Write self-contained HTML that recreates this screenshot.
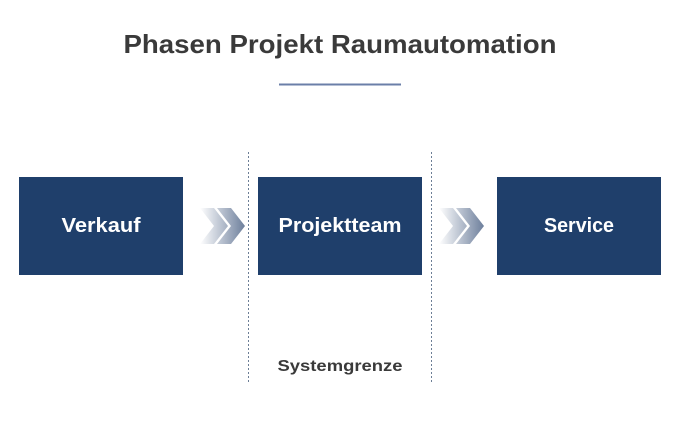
<!DOCTYPE html>
<html><head><style>body{margin:0;background:#fff}svg{display:block}</style></head><body>
<svg width="680" height="427" viewBox="0 0 680 427" xmlns="http://www.w3.org/2000/svg">
<defs>
<linearGradient id="g1" gradientUnits="userSpaceOnUse" x1="200" x2="245" y1="0" y2="0">
<stop offset="0" stop-color="#ffffff"/><stop offset="1" stop-color="#6d7f9c"/>
</linearGradient>
<linearGradient id="g2" gradientUnits="userSpaceOnUse" x1="439" x2="484" y1="0" y2="0">
<stop offset="0" stop-color="#ffffff"/><stop offset="1" stop-color="#6d7f9c"/>
</linearGradient>
</defs>
<text x="340" y="53" text-anchor="middle" font-family="Liberation Sans, sans-serif" font-weight="bold" font-size="26" fill="#3a3a3a" textLength="433" lengthAdjust="spacingAndGlyphs">Phasen Projekt Raumautomation</text>
<line x1="279" y1="84.5" x2="401" y2="84.5" stroke="#6b7fa8" stroke-width="2"/>
<line x1="248.5" y1="152" x2="248.5" y2="382" stroke="#6c7e96" stroke-width="1" stroke-dasharray="2,2"/>
<line x1="431.5" y1="152" x2="431.5" y2="382" stroke="#6c7e96" stroke-width="1" stroke-dasharray="2,2"/>
<rect x="19" y="177" width="164" height="98" fill="#1f3f6b"/>
<rect x="258" y="177" width="164" height="98" fill="#1f3f6b"/>
<rect x="497" y="177" width="164" height="98" fill="#1f3f6b"/>
<g font-family="Liberation Sans, sans-serif" font-weight="bold" font-size="20" fill="#fff" text-anchor="middle">
<text x="101" y="232" textLength="79" lengthAdjust="spacingAndGlyphs">Verkauf</text>
<text x="340" y="232" textLength="123" lengthAdjust="spacingAndGlyphs">Projektteam</text>
<text x="579" y="232" textLength="70" lengthAdjust="spacingAndGlyphs">Service</text>
</g>
<g fill="url(#g1)">
<polygon points="200,208 214,208 228,226 214,244 200,244 214,226"/>
<polygon points="217,208 231,208 245,226 231,244 217,244 231,226"/>
</g>
<g fill="url(#g2)">
<polygon points="439,208 453,208 467,226 453,244 439,244 453,226"/>
<polygon points="456,208 470,208 484,226 470,244 456,244 470,226"/>
</g>
<text x="340" y="371" text-anchor="middle" font-family="Liberation Sans, sans-serif" font-weight="bold" font-size="16" fill="#3a3a3a" textLength="125" lengthAdjust="spacingAndGlyphs">Systemgrenze</text>
</svg>
</body></html>
